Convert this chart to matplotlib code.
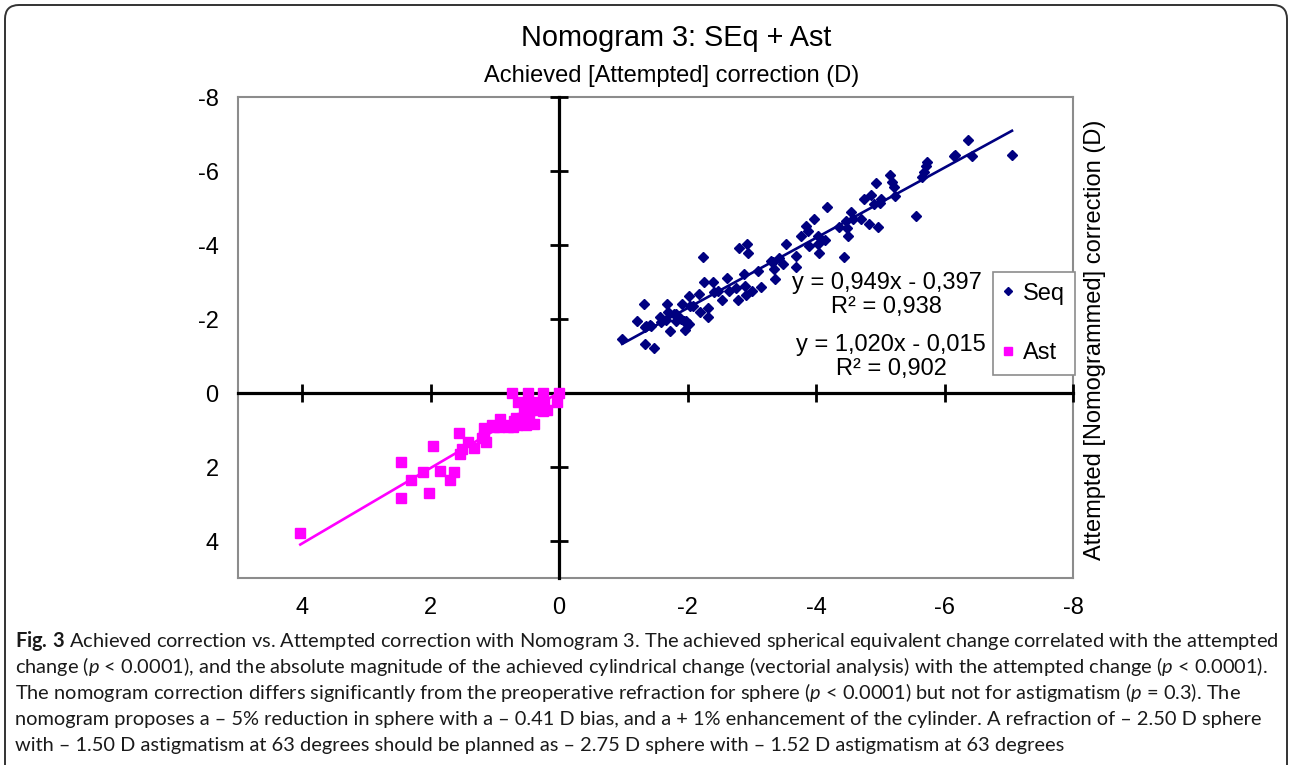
import matplotlib
matplotlib.use('Agg')
import matplotlib.pyplot as plt
import numpy as np
from matplotlib.patches import FancyBboxPatch
from matplotlib.transforms import IdentityTransform

# ---------------- data ----------------
seq_x = [-0.98, -1.21, -1.32, -1.34, -1.48, -1.33, -1.43, -1.57, -1.59, -1.68, -1.69, -1.72,
         -1.82, -1.82, -1.92, -1.94, -1.96, -2.02, -2.04, -2.02, -2.18, -2.19, -2.24, -2.26,
         -2.32, -2.32, -2.39, -2.41, -2.53, -2.62, -2.64, -2.78, -2.80, -2.92, -2.94, -2.88,
         -2.89, -2.91, -3.01, -3.09, -3.14, -3.33, -3.35, -3.36, -3.48, -3.53, -3.69, -3.69,
         -3.76, -3.84, -3.87, -3.89, -3.97, -4.03, -4.03, -4.04, -4.14, -4.17, -4.35, -4.43,
         -4.46, -4.49, -4.54, -4.70, -4.74, -4.82, -4.85, -4.93, -4.96, -4.99, -5.01, -5.15,
         -5.18, -5.21, -5.23, -5.55, -5.65, -5.68, -5.71, -5.72, -6.14, -6.17, -6.36, -6.42,
         -7.05, -1.35, -1.42, -1.66, -1.79, -1.90, -1.98, -2.08, -2.47, -3.30, -3.42, -2.75,
         -4.90, -4.57, -4.48]
seq_y = [-1.46, -1.95, -2.41, -1.32, -1.22, -1.78, -1.81, -2.05, -1.92, -2.41, -2.19, -1.68,
         -2.14, -1.95, -2.41, -1.95, -1.70, -2.62, -2.35, -1.86, -2.68, -2.19, -3.68, -3.00,
         -2.30, -2.05, -3.00, -2.73, -2.51, -3.11, -2.76, -2.51, -3.92, -4.03, -3.78, -3.22,
         -2.89, -2.65, -2.76, -3.30, -2.86, -3.54, -3.35, -3.08, -3.49, -4.03, -3.70, -3.41,
         -4.24, -4.51, -4.38, -3.97, -4.70, -4.24, -4.03, -3.78, -4.14, -5.03, -4.49, -3.68,
         -4.65, -4.24, -4.89, -4.70, -5.24, -4.57, -5.35, -5.68, -4.49, -5.14, -5.24, -5.89,
         -5.70, -5.57, -5.32, -4.78, -5.84, -5.97, -6.14, -6.24, -6.41, -6.43, -6.84, -6.41,
         -6.43, -1.81, -1.84, -1.97, -2.14, -2.00, -1.95, -2.35, -2.76, -3.57, -3.65, -2.84,
         -5.11, -4.70, -4.46]

ast_x = [0.73, 0.48, 0.25, 0.00, 0.64, 0.48, 0.34, 0.23, 0.03, 0.54, 0.45, 0.25, 0.19,
         0.67, 0.62, 0.47, 0.92, 1.01, 0.93, 0.79, 0.72, 0.51, 0.39, 1.17, 1.17, 1.14,
         1.56, 1.42, 1.52, 1.32, 1.54, 1.96, 2.47, 2.30, 2.12, 1.85, 1.63, 1.70, 2.02,
         2.47, 4.03, 0.70, 0.58, 0.55, 1.05, 0.85, 0.65, 1.20, 0.35]
ast_y = [0.00, 0.00, 0.00, 0.00, 0.24, 0.24, 0.24, 0.24, 0.24, 0.49, 0.46, 0.49, 0.46,
         0.68, 0.76, 0.70, 0.70, 0.92, 0.92, 0.92, 0.92, 0.86, 0.84, 0.95, 1.16, 1.32,
         1.08, 1.32, 1.51, 1.49, 1.65, 1.43, 1.86, 2.35, 2.14, 2.11, 2.14, 2.35, 2.70,
         2.84, 3.78, 0.76, 0.68, 0.81, 0.86, 0.86, 0.86, 1.22, 0.46]

seq_slope, seq_icpt, seq_r2 = 0.949, -0.397, 0.938
ast_slope, ast_icpt, ast_r2 = 1.020, -0.015, 0.902

xticks = [4, 2, 0, -2, -4, -6, -8]
yticks = [-8, -6, -4, -2, 0, 2, 4]
xlim = (5, -8)
ylim = (5, -8)

title = "Nomogram 3: SEq + Ast"
xlabel = "Achieved [Attempted] correction (D)"
ylabel = "Attempted [Nomogrammed] correction (D)"
series_names = ["Seq", "Ast"]

caption_lines = [
    r"$\mathbf{Fig.\,3}$ Achieved correction vs. Attempted correction with Nomogram 3. The achieved spherical equivalent change correlated with the attempted",
    r"change ($p$ < 0.0001), and the absolute magnitude of the achieved cylindrical change (vectorial analysis) with the attempted change ($p$ < 0.0001).",
    r"The nomogram correction differs significantly from the preoperative refraction for sphere ($p$ < 0.0001) but not for astigmatism ($p$ = 0.3). The",
    "nomogram proposes a \u2013 5% reduction in sphere with a \u2013 0.41 D bias, and a + 1% enhancement of the cylinder. A refraction of \u2013 2.50 D sphere",
    "with \u2013 1.50 D astigmatism at 63 degrees should be planned as \u2013 2.75 D sphere with \u2013 1.52 D astigmatism at 63 degrees",
]

# ---------------- style ----------------
plt.rcParams['font.family'] = ['Liberation Sans', 'DejaVu Sans']
plt.rcParams['axes.unicode_minus'] = False
plt.rcParams['mathtext.fontset'] = 'custom'
plt.rcParams['mathtext.rm'] = 'Lato'
plt.rcParams['mathtext.it'] = 'Lato:italic'
plt.rcParams['mathtext.bf'] = 'Lato:bold'

SEQ_C = '#000080'
AST_C = '#FF00FF'
FS = 17

W, H = 1292, 765
fig = plt.figure(figsize=(W / 100, H / 100), dpi=100)
rect = [238 / W, 1 - 578 / H, (1073 - 238) / W, (578 - 97) / H]

# frame axes with tick labels at the edges
ax_f = fig.add_axes(rect)
ax_f.set_xlim(*xlim)
ax_f.set_ylim(*ylim)
ax_f.set_xticks(xticks)
ax_f.set_yticks(yticks)
ax_f.set_xticklabels([str(t) for t in xticks])
ax_f.set_yticklabels([str(t) for t in yticks])
ax_f.tick_params(length=0, labelsize=FS, pad=14)
for s in ax_f.spines.values():
    s.set_color('#8c8c8c')
    s.set_linewidth(1.5)

# data axes with axes crossing at zero
ax = fig.add_axes(rect, sharex=ax_f, sharey=ax_f)
ax.patch.set_visible(False)
ax.spines['top'].set_visible(False)
ax.spines['right'].set_visible(False)
ax.spines['left'].set_position(('data', 0))
ax.spines['bottom'].set_position(('data', 0))
ax.spines['left'].set_linewidth(2.3)
ax.spines['bottom'].set_linewidth(2.3)
ax.tick_params(direction='inout', length=13, width=2, color='black',
               labelbottom=False, labelleft=False)

ax.plot(seq_x, seq_y, linestyle='none', marker='D', markersize=5,
        color=SEQ_C, label=series_names[0], zorder=4)
ax.plot(ast_x, ast_y, linestyle='none', marker='s', markersize=6.5,
        color=AST_C, label=series_names[1], zorder=4)

sx = np.array([min(seq_x), max(seq_x)])
ax.plot(sx, seq_slope * sx + seq_icpt, color=SEQ_C, lw=1.9, zorder=3)
axx = np.array([min(ast_x), max(ast_x)])
ax.plot(axx, ast_slope * axx + ast_icpt, color=AST_C, lw=1.9, zorder=3)

def fmt(v):
    return f"{abs(v):.3f}".replace('.', ',')

eq1 = f"y = {fmt(seq_slope)}x - {fmt(seq_icpt)}\nR\u00b2 = {fmt(seq_r2)}"
eq2 = f"y = {fmt(ast_slope)}x - {fmt(ast_icpt)}\nR\u00b2 = {fmt(ast_r2)}"
ax.text(-5.10, -2.65, eq1, ha='center', va='center', multialignment='center',
        fontsize=FS, linespacing=1.1, zorder=5)
ax.text(-5.17, -0.97, eq2, ha='center', va='center', multialignment='center',
        fontsize=FS, linespacing=1.1, zorder=5)

leg = ax.legend(loc='center', bbox_to_anchor=(0.9535, 0.529), fontsize=FS,
                frameon=True, fancybox=False, edgecolor='#8c8c8c', framealpha=1,
                labelspacing=1.6, handlelength=0.4, handletextpad=0.4,
                borderpad=0.45, markerscale=0.8, borderaxespad=0)
leg.get_frame().set_linewidth(1.2)
leg.set_zorder(6)

fig.text(676 / W, 1 - 38 / H, title, ha='center', va='center', fontsize=20.8)
fig.text(672 / W, 1 - 76 / H, xlabel, ha='center', va='center', fontsize=FS)
fig.text(1095 / W, 1 - 340 / H, ylabel, ha='center', va='center',
         rotation=90, fontsize=FS)

# caption
baselines = [647, 673, 699, 725, 751]
cap_texts = []
for line, yb in zip(caption_lines, baselines):
    t = fig.text(15 / W, 1 - yb / H, line, ha='left', va='baseline',
                 fontsize=13, family=['Lato', 'DejaVu Sans'], color='#1a1a1a')
    cap_texts.append(t)
fig.canvas.draw()
r = fig.canvas.get_renderer()
w1 = cap_texts[0].get_window_extent(r).width
fs = 13 * 1260 / w1
for t in cap_texts:
    t.set_fontsize(fs)

# rounded border around the figure
border = FancyBboxPatch((5, -40), 1282, 800, boxstyle="round,pad=0,rounding_size=14",
                        fc='none', ec='#333333', lw=1.4, transform=IdentityTransform())
fig.add_artist(border)

fig.savefig('out.png', dpi=100)
